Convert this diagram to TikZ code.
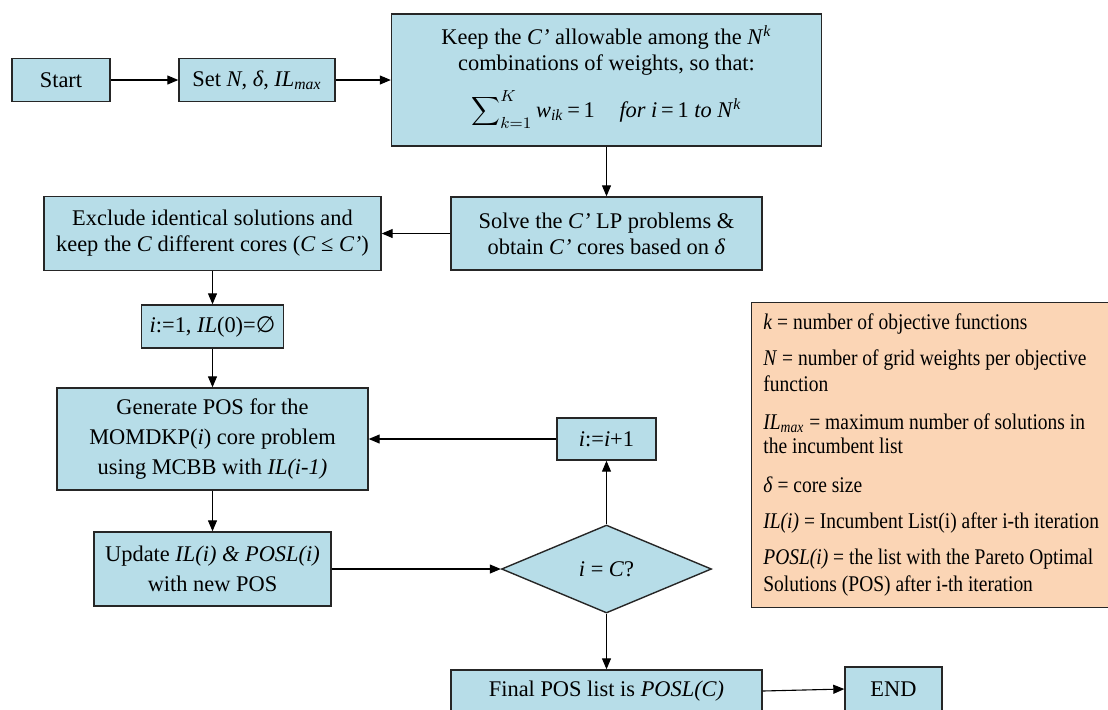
\documentclass[tikz,border=0pt]{standalone}
\usepackage{fontspec}
\setmainfont{Liberation Serif}
\newfontfamily\dvs{DejaVu Sans}
\newfontfamily\legfont[FakeStretch=0.87]{Liberation Serif}
\usetikzlibrary{shapes.geometric,arrows.meta}
\definecolor{boxblue}{HTML}{B7DDE8}
\definecolor{legpeach}{HTML}{FBD5B5}
\definecolor{edge}{HTML}{262626}
\begin{document}
\begin{tikzpicture}[x=0.5pt,y=-0.5pt,
  font=\fontsize{11.2}{13}\selectfont,
  box/.style={draw=edge, fill=boxblue, line width=0.7pt, inner sep=0pt, align=center},
  legbox/.style={draw=edge, fill=legpeach, line width=0.7pt, inner sep=0pt},
  legtext/.style={anchor=base west, inner sep=0pt, font=\legfont\fontsize{11.2}{13}\selectfont},
  arr/.style={-{Triangle[length=5.5pt,width=4.5pt]}, line width=0.55pt, draw=black}]
\useasboundingbox (0,0) rectangle (1108,709);
\clip (0,0) rectangle (1108,709);

% nodes
\node[box, minimum width=49pt, minimum height=21.5pt] (start) at (61,80) {Start};
\node[box, minimum width=78pt, minimum height=21.5pt] (set) at (257,80) {Set \textit{N}, \textit{δ}, \textit{IL}\textsubscript{\textit{max}}};
\node[box, minimum width=215pt, minimum height=66pt] (keep) at (606.5,80) {};
\node[align=center, inner sep=0pt] (keeptext) at (606.5,77) {Keep the \textit{C’} allowable among the \textit{N}\textsuperscript{\textit{k}}\\
combinations of weights, so that:\\[7pt]
$\displaystyle\sum\nolimits_{k=1}^{K}$\,\textit{w}\textsubscript{\textit{ik}}\,=\,1\hspace{1.1em}\textit{for i}\,=\,1 \textit{to N}\textsuperscript{\textit{k}}};
\node[box, minimum width=155.5pt, minimum height=36.5pt] (solve) at (606.5,233.5) {Solve the \textit{C’} LP problems \&\\ obtain \textit{C’} cores based on \textit{δ}};
\node[box, minimum width=168.5pt, minimum height=37pt] (excl) at (212.5,233.5) {Exclude identical solutions and\\ keep the \textit{C} different cores (\textit{C} ≤ \textit{C’})};
\node[box, minimum width=71pt, minimum height=21.5pt] (init) at (212.5,326.5) {\textit{i}:=1, \textit{IL}(0)={\dvs ∅}};
\node[box, minimum width=155.5pt, minimum height=51pt, font=\fontsize{11.2}{15}\selectfont] (gen) at (212.5,439) {Generate POS for the\\ MOMDKP(\textit{i}) core problem\\ using MCBB with \textit{IL(i-1)}};
\node[box, minimum width=49.5pt, minimum height=21pt] (incr) at (606.5,439) {\textit{i}:=\textit{i}+1};
\node[box, minimum width=118.5pt, minimum height=37pt, font=\fontsize{11.2}{15}\selectfont] (upd) at (212.5,569) {Update \textit{IL(i) \& POSL(i)}\\ with new POS};
\node[box, diamond, minimum width=105pt, minimum height=44pt] (dia) at (606.5,569) {\textit{i} = \textit{C}?};
\node[box, minimum width=155.5pt, minimum height=21pt] (final) at (606.5,691) {Final POS list is \textit{POSL(C)}};
\node[box, minimum width=48.5pt, minimum height=22pt] (end) at (893.5,689) {END};

% legend
\node[legbox, anchor=north west, minimum width=190pt, minimum height=152.5pt] (legend) at (751,302) {};
\node[legtext] (l1) at (763,329) {\textit{k} = number of objective functions};
\node[legtext] (l2) at (763,365) {\textit{N} = number of grid weights per objective};
\node[legtext] (l3) at (763,391) {function};
\node[legtext] (l4) at (763,429) {\textit{IL}\textsubscript{\textit{max}} = maximum number of solutions in};
\node[legtext] (l5) at (763,453) {the incumbent list};
\node[legtext] (l6) at (763,492) {\textit{δ} = core size};
\node[legtext] (l7) at (763,528) {\textit{IL(i)} = Incumbent List(i) after i-th iteration};
\node[legtext] (l8) at (763,564) {\textit{POSL(i)} = the list with the Pareto Optimal};
\node[legtext] (l9) at (763,591) {Solutions (POS) after i-th iteration};

% connectors
\draw[arr] (start.east) -- (set.west);
\draw[arr] (set.east) -- (keep.west);
\draw[arr] (keep.south) -- (solve.north);
\draw[arr] (solve.west) -- (excl.east);
\draw[arr] (excl.south) -- (init.north);
\draw[arr] (init.south) -- (gen.north);
\draw[arr] (gen.south) -- (upd.north);
\draw[arr] (upd.east) -- (dia.west);
\draw[arr] (dia.north) -- (incr.south);
\draw[arr] (incr.west) -- (gen.east);
\draw[arr] (dia.south) -- (final.north);
\draw[arr] (final.east) -- (end.west);
\end{tikzpicture}
\end{document}
